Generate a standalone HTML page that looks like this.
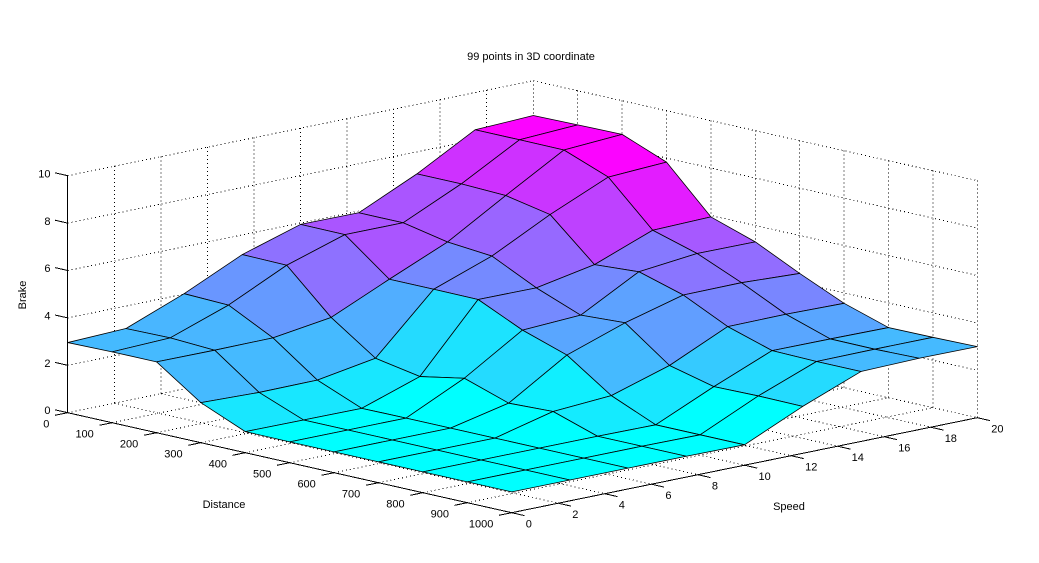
<!DOCTYPE html>
<html>
<head>
<meta charset="utf-8">
<style>
html,body{margin:0;padding:0;background:#fff;}
body{width:1039px;height:563px;overflow:hidden;position:relative;}
svg{position:absolute;left:0;top:0;}
text{font-family:"Liberation Sans",Arial,sans-serif;font-size:11px;fill:#000;}
</style>
</head>
<body>
<svg id="s" width="1039" height="563" viewBox="0 0 1039 563" xmlns="http://www.w3.org/2000/svg">
  <rect x="0" y="0" width="1039" height="563" fill="#fff"/>
  <g id="grid" stroke="#000" stroke-width="1" stroke-dasharray="1,3" fill="none" shape-rendering="crispEdges"></g>
  <g id="axes" stroke="#000" stroke-width="1" fill="none" shape-rendering="crispEdges"></g>
  <g id="surf" stroke="#000" stroke-width="0.8" stroke-linejoin="round"></g>

  <text x="531" y="60" text-anchor="middle">99 points in 3D coordinate</text>

  <!-- z labels -->
  <text x="50.5" y="414.2" text-anchor="end">0</text>
  <text x="50.5" y="366.9" text-anchor="end">2</text>
  <text x="50.5" y="319.6" text-anchor="end">4</text>
  <text x="50.5" y="272.2" text-anchor="end">6</text>
  <text x="50.5" y="224.9" text-anchor="end">8</text>
  <text x="50.5" y="177.6" text-anchor="end">10</text>
  <text transform="translate(26,295) rotate(-90)" text-anchor="middle">Brake</text>

  <!-- distance labels -->
  <text x="49.4" y="427.3" text-anchor="end">0</text>
  <text x="93.8" y="437.3" text-anchor="end">100</text>
  <text x="138.2" y="447.3" text-anchor="end">200</text>
  <text x="182.6" y="457.3" text-anchor="end">300</text>
  <text x="227" y="467.3" text-anchor="end">400</text>
  <text x="271.4" y="477.3" text-anchor="end">500</text>
  <text x="315.8" y="487.3" text-anchor="end">600</text>
  <text x="360.2" y="497.3" text-anchor="end">700</text>
  <text x="404.6" y="507.3" text-anchor="end">800</text>
  <text x="449" y="517.3" text-anchor="end">900</text>
  <text x="493.4" y="527.3" text-anchor="end">1000</text>
  <text x="224" y="508" text-anchor="middle">Distance</text>

  <!-- speed labels -->
  <text x="525.7" y="527.7">0</text>
  <text x="572.3" y="518.2">2</text>
  <text x="618.8" y="508.7">4</text>
  <text x="665.4" y="499.2">6</text>
  <text x="711.9" y="489.7">8</text>
  <text x="758.5" y="480.2">10</text>
  <text x="805.1" y="470.7">12</text>
  <text x="851.6" y="461.2">14</text>
  <text x="898.2" y="451.7">16</text>
  <text x="944.7" y="442.2">18</text>
  <text x="991.3" y="432.7">20</text>
  <text x="789" y="510" text-anchor="middle">Speed</text>
</svg>
<script>
(function(){
var Z=[
[2.96,3.05,4.02,5.17,5.94,5.93,7.07,8.43,8.53],
[2.99,3.08,3.96,5.14,5.93,5.93,7.07,8.43,8.56],
[2.99,2.98,3.00,3.36,4.47,5.54,7.00,8.42,8.58],
[1.69,1.62,1.64,2.06,4.47,5.37,6.62,7.70,7.83],
[0.89,0.88,0.87,1.71,4.46,4.45,4.93,5.88,5.94],
[0.88,0.88,0.88,2.06,3.59,3.72,5.05,5.32,5.31],
[0.88,0.88,0.88,1.43,2.96,3.82,4.49,4.51,4.40],
[0.88,0.88,0.88,1.50,1.67,2.44,3.58,3.60,3.56],
[0.88,0.88,0.88,0.88,0.86,1.97,2.99,2.98,2.96],
[0.88,0.88,0.88,0.88,0.86,2.00,2.95,2.97,2.97],
[0.88,0.88,0.88,0.88,0.86,1.98,2.95,3.01,3.00]
];
var kz=23.7;
function P(D,S,z){return [67.7+0.444*D+23.28*S, 412.7+0.1*D-4.75*S-kz*z];}
var NS="http://www.w3.org/2000/svg";
function el(tag,attrs,parent){var e=document.createElementNS(NS,tag);for(var a in attrs)e.setAttribute(a,attrs[a]);parent.appendChild(e);return e;}
function line(p,q,parent){el('line',{x1:p[0].toFixed(2),y1:p[1].toFixed(2),x2:q[0].toFixed(2),y2:q[1].toFixed(2)},parent);}
var g=document.getElementById('grid');
var s,D,z;
for(s=0;s<=20;s+=2){ if(s>0) line(P(0,s,0),P(0,s,10),g); line(P(0,s,0),P(1000,s,0),g);}
for(z=0;z<=10;z+=2){ line(P(0,0,z),P(0,20,z),g); line(P(0,20,z),P(1000,20,z),g);}
for(D=0;D<=1000;D+=100){ line(P(D,20,0),P(D,20,10),g); line(P(D,0,0),P(D,20,0),g);}
var ax=document.getElementById('axes');
line(P(0,0,0),P(0,0,10),ax);
line(P(0,0,0),P(1000,0,0),ax);
line(P(1000,0,0),P(1000,20,0),ax);
for(z=0;z<=10;z+=2){var p=P(0,0,z);line(p,[p[0]-12.7,p[1]-2.9],ax);}
for(D=0;D<=1000;D+=100){var p=P(D,0,0);line(p,[p[0]-12.7,p[1]+2.6],ax);}
for(s=0;s<=20;s+=2){var p=P(1000,s,0);line(p,[p[0]+12.7,p[1]+2.9],ax);}
var sf=document.getElementById('surf');
var faces=[];
var cmin=0.86,cmax=8.58;
for(var d=0;d<10;d++)for(var j=0;j<8;j++){
  var DD=d*100,SS=j*2.5;
  var pts=[P(DD,SS,Z[d][j]),P(DD+100,SS,Z[d+1][j]),P(DD+100,SS+2.5,Z[d+1][j+1]),P(DD,SS+2.5,Z[d][j+1])];
  faces.push({pts:pts,near:0.1*(DD+50)-4.75*(SS+1.25),c:Z[d][j]});
}
faces.sort(function(a,b){return a.near-b.near;});
faces.forEach(function(f){
  var i=Math.floor((f.c-cmin)/(cmax-cmin)*64); if(i>63)i=63; if(i<0)i=0;
  var t=i/63;
  var col='rgb('+Math.round(255*t)+','+Math.round(255*(1-t))+',255)';
  el('polygon',{points:f.pts.map(function(p){return p[0].toFixed(2)+','+p[1].toFixed(2);}).join(' '),fill:col},sf);
});
})();
</script>
</body>
</html>
